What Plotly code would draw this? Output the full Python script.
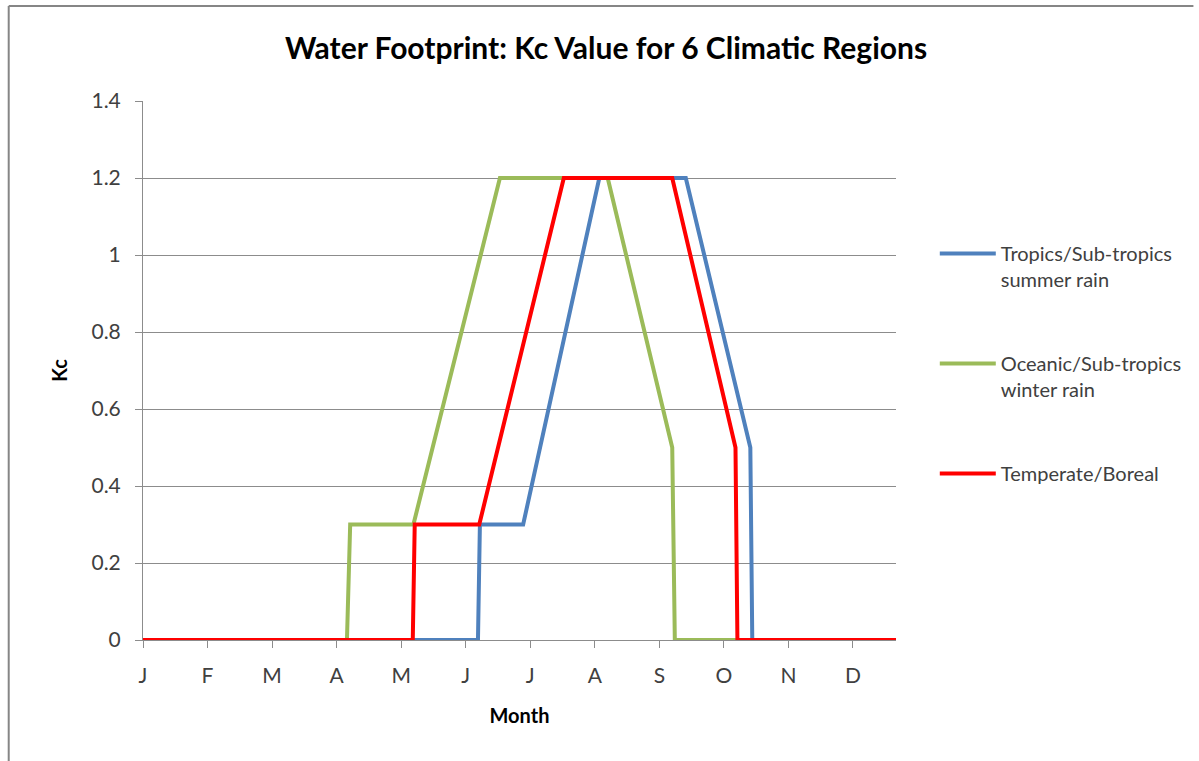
import plotly.graph_objects as go

# Month tick labels (category positions 0..11)
month_labels = ["J", "F", "M", "A", "M", "J", "J", "A", "S", "O", "N", "D"]

# Kc curves as breakpoints: position in months from the start of January, Kc value
tropics_x = [0.00, 5.19, 5.22, 5.89, 7.07, 8.41, 9.41, 9.44, 11.67]
tropics_kc = [0.0, 0.0, 0.3, 0.3, 1.2, 1.2, 0.5, 0.0, 0.0]

oceanic_x = [0.00, 3.16, 3.21, 4.19, 5.53, 7.20, 8.20, 8.24, 11.67]
oceanic_kc = [0.0, 0.0, 0.3, 0.3, 1.2, 1.2, 0.5, 0.0, 0.0]

temperate_x = [0.00, 4.18, 4.21, 5.21, 6.52, 8.20, 9.18, 9.21, 11.67]
temperate_kc = [0.0, 0.0, 0.3, 0.3, 1.2, 1.2, 0.5, 0.0, 0.0]

series = [
    ("Tropics/Sub-tropics<br>summer rain", tropics_x, tropics_kc, "#4F81BD"),
    ("Oceanic/Sub-tropics<br>winter rain", oceanic_x, oceanic_kc, "#9BBB59"),
    ("Temperate/Boreal", temperate_x, temperate_kc, "#FF0000"),
]

W, H = 1199, 761
ML, MR, MT, MB = 143, 299, 101, 121
PW, PH = W - ML - MR, H - MT - MB

FONT = "Lato"
GRID = "#8c8c8c"

fig = go.Figure()
for i, (name, xs, ys, color) in enumerate(series):
    fig.add_trace(go.Scatter(
        x=xs, y=ys, mode="lines", name=name,
        line=dict(color=color, width=4),
        legendgroup=f"g{i}",
    ))

# Chart-area frame (top and left edges)
bx = (8 - ML) / PW
by = (H - MB - 6) / PH
fig.add_shape(type="line", xref="paper", yref="paper", x0=bx, x1=(W - ML) / PW,
              y0=by, y1=by, line=dict(color="#868686", width=2))
fig.add_shape(type="line", xref="paper", yref="paper", x0=bx, x1=bx,
              y0=by, y1=-(MB + 2) / PH, line=dict(color="#868686", width=2))

fig.update_layout(
    width=W, height=H,
    margin=dict(l=ML, r=MR, t=MT, b=MB),
    paper_bgcolor="white", plot_bgcolor="white",
    font=dict(family=FONT, color="#404040"),
    title=dict(
        text="<b>Water Footprint: Kc Value for 6 Climatic Regions</b>",
        x=606 / W, xanchor="center", xref="container",
        y=1 - 48 / H, yanchor="middle", yref="container",
        font=dict(family=FONT, size=30, color="black"),
    ),
    xaxis=dict(
        range=[0, 11.667],
        tickmode="array", tickvals=list(range(12)), ticktext=month_labels,
        ticks="outside", ticklen=7, tickcolor=GRID,
        ticklabelstandoff=10,
        showline=True, linecolor=GRID, linewidth=1,
        showgrid=False, zeroline=False,
        tickfont=dict(size=21, color="#404040"),
        title=dict(text="<b>Month</b>", font=dict(size=20, color="black"), standoff=22),
    ),
    yaxis=dict(
        range=[0, 1.4], dtick=0.2, tick0=0,
        ticks="outside", ticklen=7, tickcolor=GRID,
        ticklabelstandoff=10,
        showline=True, linecolor=GRID, linewidth=1,
        showgrid=True, gridcolor=GRID, gridwidth=1, zeroline=False,
        tickfont=dict(size=21, color="#404040"),
        title=dict(text="<b>Kc</b>", font=dict(size=20, color="black"), standoff=18),
    ),
    legend=dict(
        x=(939 - ML) / PW, xanchor="left",
        y=(H - MB - 234) / PH, yanchor="top",
        font=dict(family=FONT, size=20, color="#404040"),
        itemwidth=56, valign="top",
        tracegroupgap=55,
        bgcolor="rgba(0,0,0,0)",
    ),
    showlegend=True,
)

fig.write_html("out.html")
